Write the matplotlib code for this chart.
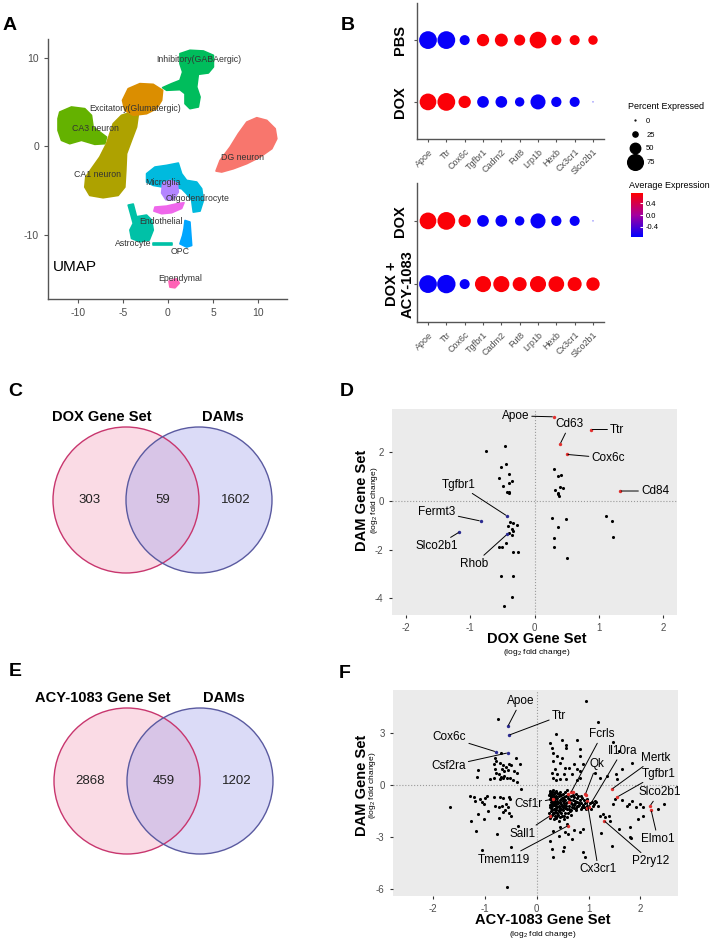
import numpy as np
import matplotlib
matplotlib.use('Agg')
import matplotlib.pyplot as plt
from matplotlib.patches import Circle
from matplotlib.lines import Line2D
from matplotlib.colors import LinearSegmentedColormap

plt.rcParams['font.family'] = ['Liberation Sans', 'DejaVu Sans']
plt.rcParams['mathtext.fontset'] = 'custom'
plt.rcParams['mathtext.rm'] = 'Liberation Sans'
plt.rcParams['axes.unicode_minus'] = False

# ---------------- data ----------------
# panel A: UMAP cluster outlines (umap coords)
dg_outline = [(5.33, -2.78), (5.78, -1.58), (6.89, -0.08), (7.81, 1.43), (8.74, 2.74), (9.85, 3.23),
              (10.96, 2.93), (11.89, 1.99), (12.07, 0.86), (11.52, -0.26), (10.22, -1.20),
              (8.74, -1.95), (7.26, -2.52), (5.96, -2.89)]
inhib_outline = [(1.33, 10.45), (2.44, 10.83), (3.93, 10.75), (5.04, 10.26), (5.04, 8.95), (4.48, 8.27),
                 (3.37, 8.12), (3.19, 6.69), (3.56, 5.56), (3.37, 4.44), (2.44, 4.25), (1.89, 4.81),
                 (1.89, 5.94), (1.33, 6.39), (-0.15, 6.32), (-0.59, 6.62), (0.41, 7.07), (1.33, 7.44),
                 (1.63, 8.38), (1.33, 9.32)]
excit_outline = [(-4.41, 6.50), (-3.11, 7.07), (-1.63, 6.99), (-0.59, 6.32), (-0.70, 5.19), (-1.26, 4.25),
                 (-2.37, 3.68), (-3.85, 3.50), (-4.78, 4.06), (-5.04, 5.19)]
ca1_outline = [(-4.04, 3.87), (-3.30, 3.50), (-3.48, 2.18), (-4.04, 0.68), (-4.59, -0.83), (-4.67, -2.71),
               (-4.78, -4.59), (-5.52, -5.53), (-7.19, -5.79), (-8.67, -5.53), (-9.22, -4.59),
               (-9.11, -3.46), (-8.48, -2.52), (-7.56, -1.20), (-6.81, 0.30), (-6.44, 1.43),
               (-6.07, 2.56), (-5.15, 3.50)]
ca3_outline = [(-12.0, 3.87), (-10.70, 4.44), (-9.22, 4.25), (-8.48, 3.50), (-8.30, 2.18), (-7.56, 1.62),
               (-6.81, 1.05), (-7.0, 0.30), (-8.11, 0.23), (-9.59, 0.68), (-10.89, 0.30),
               (-11.81, 0.68), (-12.19, 1.80), (-12.19, 3.12)]
oligo_outline = [(-2.37, -3.08), (-1.44, -2.33), (-0.15, -2.14), (1.15, -1.88), (1.52, -3.08),
                 (2.07, -3.83), (3.19, -4.02), (3.74, -4.77), (3.93, -6.09), (3.56, -7.29),
                 (2.81, -7.41), (2.63, -6.09), (2.07, -5.34), (1.52, -4.77), (0.59, -4.59),
                 (-0.52, -4.59), (-1.63, -4.40), (-2.37, -4.02)]
micro_outline = [(-0.59, -4.14), (0.22, -3.83), (1.04, -4.14), (1.15, -5.15), (0.59, -6.02),
                 (-0.22, -6.02), (-0.70, -5.26)]
endo_outline = [(-1.44, -6.84), (-0.15, -6.73), (0.96, -6.47), (1.78, -6.35), (1.52, -6.99),
                (0.41, -7.48), (-0.70, -7.59), (-1.56, -7.29)]
astro_outline = [(-4.41, -6.62), (-3.85, -6.50), (-3.48, -7.93), (-2.37, -7.74), (-1.81, -8.30),
                 (-1.63, -9.43), (-2.07, -10.56), (-3.11, -10.75), (-4.04, -10.38), (-4.22, -9.43),
                 (-3.85, -8.68), (-4.15, -7.56)]
astro_tail = [(-1.70, -10.85), (0.41, -10.85), (0.41, -11.15), (-1.70, -11.15)]
opc_outline = [(1.89, -8.35), (2.44, -8.53), (2.52, -9.66), (2.63, -11.17), (2.07, -11.35),
               (1.33, -10.98), (1.63, -10.04), (1.78, -9.29)]
epend_outline = [(0.11, -15.19), (0.96, -14.92), (1.26, -15.41), (0.78, -15.94), (0.22, -15.86)]

umap_labels = ['Inhibitory(GABAergic)', 'Excitatory(Glumatergic)', 'CA3 neuron', 'DG neuron',
               'CA1 neuron', 'Microglia', 'Oligodendrocyte', 'Endothelial', 'Astrocyte', 'OPC',
               'Ependymal']
umap_label_x = [3.44, -3.59, -8.04, 8.26, -7.81, -0.52, 3.26, -0.78, -3.85, 1.33, 1.41]
umap_label_y = [9.77, 4.25, 2.07, -1.20, -3.20, -4.06, -5.83, -8.46, -10.90, -11.80, -14.85]

# panel B: dot plots
genes_b = ['Apoe', 'Ttr', 'Cox6c', 'Tgfbr1', 'Cadm2', 'Fut8', 'Lrp1b', 'Hexb', 'Cx3cr1', 'Slco2b1']
pct_pbs = [85, 85, 48, 59, 62, 53, 80, 48, 48, 45]
pct_dox = [80, 85, 59, 56, 56, 45, 72, 49, 48, 5]
pct_acy = [85, 88, 48, 77, 77, 67, 77, 75, 67, 64]
avg_pbs = [-0.71, -0.71, -0.71, 0.71, 0.71, 0.71, 0.71, 0.71, 0.71, 0.71]
avg_dox = [0.71, 0.71, 0.71, -0.71, -0.71, -0.71, -0.71, -0.71, -0.71, -0.71]
avg_acy = [-0.71, -0.71, -0.71, 0.71, 0.71, 0.71, 0.71, 0.71, 0.71, 0.71]
pct_levels = [0, 25, 50, 75]

# panel C / E: venn counts
venn_c = [303, 59, 1602]
venn_e = [2868, 459, 1202]

# panel D: DOX vs DAM log2FC
d_black = [(-0.75, 2.05), (-0.46, 2.25), (-0.52, 1.38), (-0.44, 1.49), (-0.55, 0.92), (-0.40, 1.10),
           (-0.35, 0.83), (-0.39, 0.73), (-0.49, 0.62), (-0.43, 0.34), (-0.40, 0.30), (-0.39, 0.37),
           (0.31, 1.31), (0.36, 1.01), (0.42, 1.07), (0.32, 0.45), (0.39, 0.55), (0.45, 0.51),
           (0.36, 0.28), (0.38, 0.21), (0.37, 0.32), (0.28, -0.72), (0.49, -0.76), (0.36, -1.09),
           (0.31, -1.53), (0.30, -1.89), (0.50, -2.34), (1.12, -0.62), (1.20, -0.84), (1.22, -1.47),
           (-0.38, -0.87), (-0.33, -0.92), (-0.28, -1.01), (-0.41, -1.03), (-0.35, -1.17),
           (-0.33, -1.24), (-0.40, -1.31), (-0.35, -1.42), (-0.56, -1.89), (-0.51, -1.89),
           (-0.45, -1.75), (-0.33, -2.08), (-0.25, -2.08), (-0.52, -3.10), (-0.34, -3.10),
           (-0.35, -3.93), (-0.47, -4.30)]
d_genes = ['Apoe', 'Cd63', 'Ttr', 'Cox6c', 'Cd84', 'Tgfbr1', 'Fermt3', 'Slco2b1', 'Rhob']
d_gene_x = [0.30, 0.40, 0.88, 0.50, 1.33, -0.43, -0.84, -1.17, -0.43]
d_gene_y = [3.44, 2.33, 2.92, 1.90, 0.40, -0.62, -0.83, -1.28, -1.38]
d_gene_red = [True, True, True, True, True, False, False, False, False]
d_text_x = [-0.30, 0.55, 1.29, 1.15, 1.88, -1.18, -1.52, -1.53, -0.94]
d_text_y = [3.48, 3.13, 2.92, 1.75, 0.40, 0.66, -0.45, -1.86, -2.59]

# panel F: ACY-1083 vs DAM log2FC
f_black = [(-0.75, 3.83), (-0.69, 1.87), (-0.41, 1.59), (-0.32, 1.24), (-1.14, 0.86), (-1.16, 0.48),
           (-0.81, 1.59), (-0.79, 1.40), (-0.82, 1.24), (-0.71, 1.30), (-0.65, 1.17), (-0.60, 1.05),
           (-0.54, 1.24), (-0.50, 1.17), (-0.68, 0.92), (-0.63, 0.82), (-0.55, 0.86), (-0.45, 0.82),
           (-0.39, 0.72), (-0.81, 0.92), (-0.79, 0.72), (-0.74, 0.67), (-0.69, 0.48), (-0.63, 0.53),
           (-0.58, 0.40), (-0.52, 0.40), (-0.46, 0.29), (-0.39, 0.21), (-0.90, 0.34), (-0.82, 0.40),
           (-0.71, 0.34), (-0.65, 0.40), (-0.30, -0.23),
           (0.95, 4.88), (1.19, 3.64), (0.37, 2.93), (0.48, 2.59), (0.77, 2.64), (0.26, 2.45),
           (0.56, 2.32), (1.47, 2.51), (0.29, 2.16), (0.57, 2.13), (0.84, 2.07), (0.32, 1.87),
           (0.39, 1.68), (0.48, 1.59), (0.84, 1.68), (1.58, 1.97), (0.31, 1.40), (0.44, 1.30),
           (0.71, 1.21), (0.90, 1.24), (0.55, 1.01), (0.63, 0.98), (0.77, 0.92), (0.35, 0.92),
           (0.29, 0.72), (0.40, 0.67), (0.52, 0.67), (0.68, 0.67), (0.84, 0.82), (1.13, 0.72),
           (1.22, 0.44), (1.35, 0.53), (1.64, 0.92), (1.53, 0.67), (1.56, 0.34), (1.84, 1.30),
           (0.31, 0.40), (0.37, 0.29), (0.45, 0.34), (0.57, 0.34), (0.77, 0.29), (0.84, 0.44),
           (-1.29, -0.62), (-1.19, -0.90), (-1.21, -0.67), (-1.10, -0.80), (-1.00, -0.71),
           (-1.03, -1.06), (-1.06, -0.95), (-0.97, -0.62), (-0.82, -0.67), (-0.71, -0.67),
           (-0.65, -0.71), (-0.54, -0.67), (-0.52, -0.80), (-0.81, -1.19), (-0.74, -1.25),
           (-0.68, -1.19), (-0.60, -1.09), (-0.55, -1.25), (-1.68, -1.25), (-1.13, -1.67),
           (-0.95, -1.48), (-0.65, -1.57), (-0.62, -1.45), (-0.54, -1.63), (-0.50, -1.76),
           (-1.03, -1.95), (-1.27, -2.09), (-0.73, -1.90), (-1.18, -2.67), (-0.77, -2.82),
           (-0.36, -2.34), (-0.50, -3.59), (-1.06, -3.74), (-0.58, -5.88),
           (0.90, -1.25), (1.13, -0.90), (1.19, -1.19), (1.22, -1.76), (1.28, -1.67),
           (1.32, -1.86), (1.39, -1.76), (1.42, -2.09), (1.24, -2.78), (1.58, -2.53),
           (1.45, -3.49), (1.80, -3.01), (1.51, -0.80), (1.48, -1.09), (1.64, -0.86),
           (1.74, -1.19), (1.79, -1.06), (1.84, -0.90), (1.92, -1.25), (2.00, -1.06),
           (2.05, -1.25), (1.95, -1.95), (2.06, -1.76), (2.35, -1.38), (2.45, -1.09),
           (0.90, -2.53), (0.84, -2.72), (0.68, -3.10), (0.52, -3.59), (0.50, -3.78),
           (0.29, -3.68), (0.32, -4.16), (0.90, -3.87), (0.93, -4.16), (0.61, -2.82),
           (0.71, -2.60), (0.26, -3.20), (0.42, -2.91), (0.32, -2.63), (0.45, -2.44),
           (0.58, -2.24), (0.55, -2.72), (1.81, -2.43), (1.83, -3.04),
           (0.26, -0.45), (0.30, -0.38), (0.34, -0.52), (0.28, -0.62), (0.33, -0.70),
           (0.38, -0.60), (0.42, -0.48), (0.46, -0.58), (0.25, -0.78), (0.29, -0.85),
           (0.35, -0.82), (0.40, -0.75), (0.44, -0.88), (0.48, -0.72), (0.52, -0.66),
           (0.27, -0.95), (0.31, -1.02), (0.36, -0.96), (0.41, -1.05), (0.45, -0.98),
           (0.50, -0.92), (0.55, -0.85), (0.26, -1.12), (0.30, -1.20), (0.34, -1.15),
           (0.38, -1.22), (0.43, -1.18), (0.47, -1.10), (0.52, -1.15), (0.57, -1.05),
           (0.28, -1.32), (0.33, -1.38), (0.37, -1.30), (0.42, -1.42), (0.46, -1.35),
           (0.50, -1.28), (0.27, -1.50), (0.31, -1.58), (0.36, -1.52), (0.40, -1.62),
           (0.45, -1.55), (0.30, -1.72), (0.35, -1.80), (0.26, -1.88), (0.39, -1.75),
           (0.32, -0.28), (0.37, -0.35), (0.60, -0.95), (0.63, -0.80), (0.66, -1.00),
           (0.70, -0.88), (0.74, -1.05), (0.78, -0.95), (0.82, -1.12), (0.86, -1.00),
           (0.90, -1.15), (0.62, -1.20), (0.68, -1.25), (0.72, -1.15), (0.76, -1.30),
           (0.80, -1.22), (0.85, -1.35), (0.92, -1.28), (0.96, -1.40), (0.58, -1.40),
           (0.64, -1.50), (0.55, -1.60), (0.60, -0.55), (0.67, -0.62), (0.72, -0.70),
           (0.54, -0.40), (0.58, -0.30), (0.48, -1.78), (0.52, -1.95), (0.42, -2.05),
           (0.58, -1.85), (0.66, -1.70), (1.02, -1.05), (1.06, -0.95), (1.08, -1.22),
           (0.98, -0.78), (0.88, -0.72), (0.80, -0.60), (0.75, -0.48),
           (0.24, -0.55), (0.27, -0.70), (0.31, -0.58), (0.36, -0.68), (0.39, -0.90),
           (0.43, -0.65), (0.47, -0.82), (0.51, -0.78), (0.29, -1.08), (0.33, -0.92),
           (0.37, -1.10), (0.40, -1.28), (0.44, -1.30), (0.48, -1.20), (0.53, -1.02),
           (0.56, -1.22), (0.25, -1.25), (0.29, -1.42), (0.34, -1.60), (0.38, -1.45),
           (0.43, -1.48), (0.47, -1.62), (0.51, -1.45), (0.55, -1.32), (0.24, -1.62),
           (0.28, -1.78), (0.33, -1.95), (0.37, -1.88), (0.41, -1.70), (0.45, -1.85),
           (0.26, -0.32), (0.30, -0.50), (0.35, -0.42), (0.40, -0.45), (0.45, -0.40),
           (0.50, -0.50), (0.57, -0.65), (0.61, -0.72), (0.65, -0.88), (0.69, -1.08),
           (0.73, -0.92), (0.77, -1.18), (0.81, -1.02), (0.84, -0.88), (0.88, -1.25),
           (0.93, -1.05), (0.97, -1.18), (0.63, -1.35), (0.67, -1.45), (0.71, -1.32),
           (0.75, -1.45), (0.60, -1.62), (0.53, -1.75), (0.70, -0.55), (0.78, -0.75),
           (0.86, -0.60), (0.92, -0.85), (1.04, -1.35), (1.10, -1.10), (1.14, -0.98)]
f_red_extra = [(0.60, -0.50), (0.70, -0.40), (0.95, -0.55), (0.98, -1.30), (0.62, -0.95)]
f_genes = ['Apoe', 'Ttr', 'Cox6c', 'Csf2ra', 'Fcrls', 'Qk', 'Il10ra', 'Mertk', 'Tgfbr1',
           'Slco2b1', 'Elmo1', 'P2ry12', 'Cx3cr1', 'Csf1r', 'Sall1', 'Tmem119']
f_gene_x = [-0.56, -0.54, -0.79, -0.56, 0.66, 0.94, 1.00, 1.45, 1.56, 2.19, 2.21, 1.30, 0.97,
            0.31, 0.26, 0.61]
f_gene_y = [3.40, 2.89, 1.93, 1.87, -0.42, -0.52, -1.28, -0.23, -0.67, -1.19, -1.43, -2.05,
            -0.90, -0.80, -1.76, -2.33]
f_gene_red = [False] * 4 + [True] * 12
f_text_x = [-0.31, 0.43, -1.69, -1.71, 1.26, 1.16, 1.65, 2.29, 2.35, 2.37, 2.34, 2.21, 1.19,
            -0.16, -0.27, -0.63]
f_text_y = [4.84, 3.98, 2.77, 1.11, 2.93, 1.20, 1.97, 1.59, 0.67, -0.42, -3.10, -4.40, -4.86,
            -1.09, -2.81, -4.30]

# ---------------- layout helpers ----------------
W, H = 717, 943
fig = plt.figure(figsize=(W / 100, H / 100), dpi=100)


def px_box(l, t, r, b):
    return [l / W, 1 - b / H, (r - l) / W, (b - t) / H]


def fx(x):
    return x / W


def fy(y):
    return 1 - y / H


def panel_label(x, y, s):
    fig.text(fx(x), fy(y), s, ha='center', va='center', fontsize=14, weight='bold')


# ---------------- A: UMAP ----------------
axA = fig.add_axes(px_box(48, 39, 287, 299))
clusters = [(dg_outline, '#F8766D'), (inhib_outline, '#00BD5C'), (ca3_outline, '#64B200'),
            (ca1_outline, '#AEA200'), (excit_outline, '#DB8E00'), (oligo_outline, '#00BADE'),
            (micro_outline, '#B385FF'), (endo_outline, '#EF67EB'), (astro_outline, '#00C1A7'),
            (astro_tail, '#00C1A7'), (opc_outline, '#00A6FF'), (epend_outline, '#FF63B6')]
for outline, col in clusters:
    xs, ys = zip(*outline)
    axA.fill(xs, ys, color=col, lw=1.2, ec=col, joinstyle='round')
for lab, lx, ly in zip(umap_labels, umap_label_x, umap_label_y):
    axA.text(lx, ly, lab, ha='center', va='center', fontsize=6.3, color='#333333')
axA.text(-10.3, -13.6, 'UMAP', ha='center', va='center', fontsize=11, color='black')
axA.set_xlim(-13.3, 13.2)
axA.set_ylim(-17.2, 12.1)
axA.set_xticks([-10, -5, 0, 5, 10])
axA.set_yticks([-10, 0, 10])
for s in ['top', 'right']:
    axA.spines[s].set_visible(False)
for s in ['left', 'bottom']:
    axA.spines[s].set_color('#555555')
    axA.spines[s].set_linewidth(1.0)
axA.tick_params(length=3, color='#555555', labelsize=7.5, labelcolor='#4D4D4D')
panel_label(10, 26, 'A')

# ---------------- B: dot plots ----------------
cmap = LinearSegmentedColormap.from_list('avg', ['#0000FF', '#A5009E', '#FF0000'])


def dot_size(p):
    return max(0.1505 * p, 0.6) ** 2


def dot_panel(box, top_pct, top_avg, bot_pct, bot_avg, ylabels):
    ax = fig.add_axes(px_box(*box))
    xs = np.arange(len(genes_b))
    sc = ax.scatter(xs, [1] * len(xs), s=[dot_size(p) for p in top_pct], c=top_avg,
                    cmap=cmap, vmin=-0.75, vmax=0.75, lw=0)
    ax.scatter(xs, [0] * len(xs), s=[dot_size(p) for p in bot_pct], c=bot_avg,
               cmap=cmap, vmin=-0.75, vmax=0.75, lw=0)
    ax.set_xlim(-0.6, 9.6)
    ax.set_ylim(-0.6, 1.6)
    ax.set_xticks(xs)
    ax.set_xticklabels(genes_b, rotation=45, ha='right', rotation_mode='anchor',
                       fontsize=6.5, color='#4D4D4D')
    ax.set_yticks([0, 1])
    ax.set_yticklabels(ylabels, rotation=90, va='center', ha='center', fontsize=10.5,
                       weight='bold', multialignment='center')
    ax.tick_params(axis='y', pad=10)
    ax.tick_params(length=2.5, color='#555555')
    for s in ['top', 'right']:
        ax.spines[s].set_visible(False)
    for s in ['left', 'bottom']:
        ax.spines[s].set_color('#555555')
        ax.spines[s].set_linewidth(1.0)
    return ax, sc


axB1, sc = dot_panel((417, 3, 604, 139), pct_pbs, avg_pbs, pct_dox, avg_dox, ['DOX', 'PBS'])
axB2, _ = dot_panel((417, 183, 604, 322), pct_dox, avg_dox, pct_acy, avg_acy,
                    ['DOX +\nACY-1083', 'DOX'])
panel_label(348, 25, 'B')

handles = [Line2D([], [], marker='o', ls='', color='black', markersize=max(0.1505 * p, 0.6))
           for p in pct_levels]
leg = axB1.legend(handles, [str(p) for p in pct_levels], title='Percent Expressed',
                  loc='upper left', bbox_to_anchor=(fx(624), fy(98)),
                  bbox_transform=fig.transFigure, frameon=False, fontsize=5.5,
                  title_fontsize=6.5, labelspacing=0.85, handletextpad=0.4,
                  borderpad=0, alignment='left')

cax = fig.add_axes(px_box(631, 193, 643, 237))
cb = fig.colorbar(sc, cax=cax)
cb.outline.set_visible(False)
cb.set_ticks([-0.4, 0.0, 0.4])
cax.tick_params(labelsize=5.5, length=2, color='white', direction='in', pad=2)
fig.text(fx(629), fy(185), 'Average Expression', fontsize=6.5, va='center', ha='left')


# ---------------- C / E: venn ----------------
def venn(center_x, center_y, counts, left_title):
    r = 73
    ax = fig.add_axes(px_box(center_x - 1.6 * r, center_y - 1.35 * r,
                             center_x + 1.6 * r, center_y + 1.15 * r))
    ax.set_xlim(-1.6, 1.6)
    ax.set_ylim(-1.15, 1.35)
    ax.set_aspect('equal')
    ax.axis('off')
    ax.add_patch(Circle((-0.5, 0), 1, fc='#F4A6C0', alpha=0.4, ec='none'))
    ax.add_patch(Circle((0.5, 0), 1, fc='#A5A5EC', alpha=0.4, ec='none'))
    ax.add_patch(Circle((-0.5, 0), 1, fill=False, ec='#C8366E', lw=1.0))
    ax.add_patch(Circle((0.5, 0), 1, fill=False, ec='#5A5AA0', lw=1.0))
    for xx, n in zip([-1.0, 0.0, 1.0], counts):
        ax.text(xx, 0, str(n), ha='center', va='center', fontsize=9.5, color='#222222')
    ax.text(-0.83, 1.14, left_title, ha='center', va='center', fontsize=10.5, weight='bold')
    ax.text(0.83, 1.14, 'DAMs', ha='center', va='center', fontsize=10.5, weight='bold')


venn(162.5, 500, venn_c, 'DOX Gene Set')
panel_label(15, 392, 'C')
venn(163.5, 781, venn_e, 'ACY-1083 Gene Set')
panel_label(15, 672, 'E')


# ---------------- D / F: scatter ----------------
def fc_scatter(box, black, gx, gy, gred, names, tx, ty, xlim, ylim, yticks):
    ax = fig.add_axes(px_box(*box))
    ax.set_facecolor('#EBEBEB')
    for s in ax.spines.values():
        s.set_visible(False)
    ax.axhline(0, color='#9A9A9A', ls=':', lw=0.8, zorder=1)
    ax.axvline(0, color='#9A9A9A', ls=':', lw=0.8, zorder=1)
    bx, by = zip(*black)
    ax.scatter(bx, by, s=5, c='black', lw=0, zorder=2)
    for x, y, red, name, x2, y2 in zip(gx, gy, gred, names, tx, ty):
        col = '#E0302E' if red else '#2A2A90'
        ax.scatter([x], [y], s=6, c=col, lw=0, zorder=3)
        ax.annotate(name, xy=(x, y), xytext=(x2, y2), ha='center', va='center',
                    fontsize=8.5, zorder=4,
                    arrowprops=dict(arrowstyle='-', color='black', lw=0.7,
                                    shrinkA=0, shrinkB=1))
    ax.set_xlim(*xlim)
    ax.set_ylim(*ylim)
    ax.set_xticks([-2, -1, 0, 1, 2])
    ax.set_yticks(yticks)
    ax.tick_params(length=2.5, color='#333333', labelsize=7, labelcolor='#4D4D4D')
    return ax


axD = fc_scatter((392, 409, 677, 615), d_black, d_gene_x, d_gene_y, d_gene_red, d_genes,
                 d_text_x, d_text_y, (-2.22, 2.22), (-4.68, 3.76), [-4, -2, 0, 2])
panel_label(347, 392, 'D')
fig.text(fx(362), fy(500), 'DAM Gene Set', rotation=90, ha='center', va='center',
         fontsize=10.5, weight='bold')
fig.text(fx(374), fy(500), '(log$_2$ fold change)', rotation=90, ha='center', va='center',
         fontsize=6)
fig.text(fx(537), fy(639), 'DOX Gene Set', ha='center', va='center', fontsize=10.5,
         weight='bold')
fig.text(fx(537), fy(653), '(log$_2$ fold change)', ha='center', va='center', fontsize=6)

axF = fc_scatter((393, 690, 678, 896), f_black, f_gene_x, f_gene_y, f_gene_red, f_genes,
                 f_text_x, f_text_y, (-2.78, 2.73), (-6.4, 5.5), [-6, -3, 0, 3])
rx, ry = zip(*f_red_extra)
axF.scatter(rx, ry, s=6, c='#E0302E', lw=0, zorder=3)
panel_label(345, 673, 'F')
fig.text(fx(362), fy(785), 'DAM Gene Set', rotation=90, ha='center', va='center',
         fontsize=10.5, weight='bold')
fig.text(fx(373), fy(785), '(log$_2$ fold change)', rotation=90, ha='center', va='center',
         fontsize=6)
fig.text(fx(543), fy(920), 'ACY-1083 Gene Set', ha='center', va='center', fontsize=10.5,
         weight='bold')
fig.text(fx(543), fy(934), '(log$_2$ fold change)', ha='center', va='center', fontsize=6)

fig.savefig('out.png', dpi=100)
